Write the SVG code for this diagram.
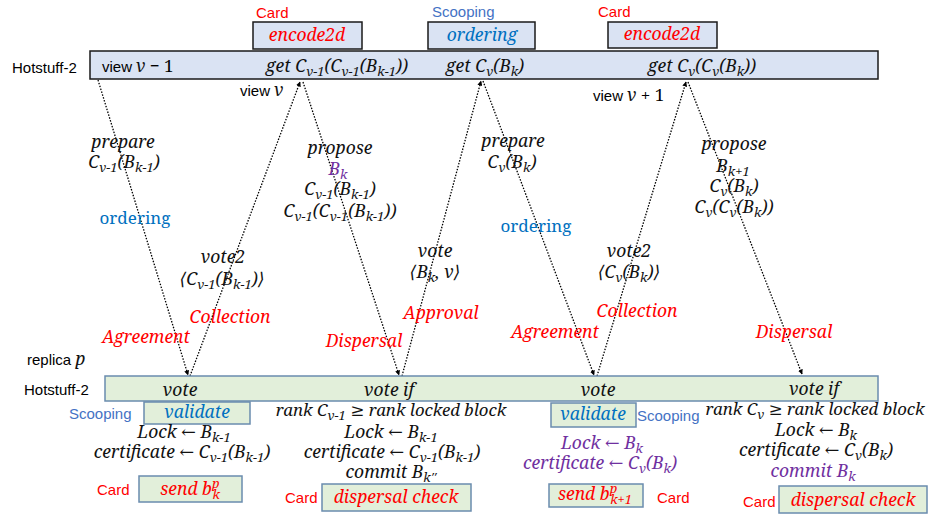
<svg xmlns="http://www.w3.org/2000/svg" width="928" height="517" viewBox="0 0 928 517">
<defs>
<marker id="ah" viewBox="0 0 10 10" refX="9" refY="5" markerWidth="5" markerHeight="5" orient="auto" markerUnits="userSpaceOnUse">
<path d="M0,0 L10,5 L0,10 z" fill="#000"/>
</marker>
<style>
.sans{font-family:"Liberation Sans",Arial,sans-serif;font-size:15px;fill:#000}
.m{font-family:"Noto Serif","DejaVu Serif",serif;font-style:italic;font-size:17.5px;fill:#111}
.up{font-family:"Noto Serif","DejaVu Serif",serif;font-style:normal;font-size:17px}
.s{font-size:13px}
.rk{font-size:16.8px}
.red{fill:#ff0000}
.blue{fill:#0070c0}
.sc{fill:#4472c4}
.pur{fill:#7030a0}
.bandT{fill:#dae3f3;stroke:#1a1a1a;stroke-width:1.5}
.bandB{fill:#e2efda;stroke:#6a8cae;stroke-width:1.5}
.conn{fill:none;stroke:#000;stroke-width:1.3;stroke-dasharray:1.5 1.5;marker-end:url(#ah)}
</style>
</defs>
<rect width="928" height="517" fill="#fff"/>

<!-- top band -->
<g id="top-band">
<text class="sans" x="12" y="73">Hotstuff-2</text>
<rect class="bandT" x="90" y="51" width="788" height="28"/>
<text x="102" y="72"><tspan class="sans">view</tspan><tspan class="m" dx="4">v</tspan><tspan class="up"> − 1</tspan></text>
<text class="m" x="337" y="72" text-anchor="middle">get C<tspan class="s" dy="4">v−1</tspan><tspan dy="-4">(C</tspan><tspan class="s" dy="4">v−1</tspan><tspan dy="-4">(B</tspan><tspan class="s" dy="4">k−1</tspan><tspan dy="-4">))</tspan></text>
<text class="m" x="485" y="72" text-anchor="middle">get C<tspan class="s" dy="4">v</tspan><tspan dy="-4">(B</tspan><tspan class="s" dy="4">k</tspan><tspan dy="-4">)</tspan></text>
<text class="m" x="702" y="72" text-anchor="middle">get C<tspan class="s" dy="4">v</tspan><tspan dy="-4">(C</tspan><tspan class="s" dy="4">v</tspan><tspan dy="-4">(B</tspan><tspan class="s" dy="4">k</tspan><tspan dy="-4">))</tspan></text>
</g>

<g id="encode2d-1">
<text class="sans red" x="256" y="18">Card</text>
<rect class="bandT" x="253" y="22" width="109" height="27"/>
<text class="m red" x="307" y="41" text-anchor="middle">encode2d</text>
</g>
<g id="ordering-top">
<text class="sans sc" x="432" y="17">Scooping</text>
<rect class="bandT" x="428" y="22" width="107" height="27"/>
<text class="m blue" x="482" y="41" text-anchor="middle">ordering</text>
</g>
<g id="encode2d-2">
<text class="sans red" x="598" y="17">Card</text>
<rect class="bandT" x="608" y="22" width="109" height="26"/>
<text class="m red" x="662" y="40" text-anchor="middle">encode2d</text>
</g>

<g id="view-labels">
<text x="240" y="96"><tspan class="sans">view</tspan><tspan class="m" dx="4">v</tspan></text>
<text x="593" y="101"><tspan class="sans">view</tspan><tspan class="m" dx="4">v</tspan><tspan class="up"> + 1</tspan></text>
</g>

<!-- connectors -->
<g id="connectors">
<line class="conn" x1="98" y1="80" x2="188" y2="375"/>
<line class="conn" x1="190" y1="376" x2="300" y2="82"/>
<line class="conn" x1="303" y1="82" x2="399" y2="375"/>
<line class="conn" x1="402" y1="376" x2="481" y2="81"/>
<line class="conn" x1="483" y1="81" x2="594" y2="375"/>
<line class="conn" x1="597" y1="376" x2="686" y2="82"/>
<line class="conn" x1="688" y1="82" x2="802" y2="374"/>
</g>

<!-- message labels -->
<g id="msg-prepare-1">
<text class="m" x="123" y="148" text-anchor="middle">prepare</text>
<text class="m" x="124" y="168" text-anchor="middle">C<tspan class="s" dy="4">v−1</tspan><tspan dy="-4">(B</tspan><tspan class="s" dy="4">k−1</tspan><tspan dy="-4">)</tspan></text>
<text class="up blue" x="135" y="224" text-anchor="middle">ordering</text>
<text class="m red" x="146" y="343" text-anchor="middle">Agreement</text>
</g>
<g id="msg-vote2-1">
<text class="m" x="223" y="263" text-anchor="middle">vote2</text>
<text class="m" x="222" y="285" text-anchor="middle">⟨C<tspan class="s" dy="4">v−1</tspan><tspan dy="-4">(B</tspan><tspan class="s" dy="4">k−1</tspan><tspan dy="-4">)⟩</tspan></text>
<text class="m red" x="230" y="323" text-anchor="middle">Collection</text>
</g>
<g id="msg-propose-1">
<text class="m" x="340" y="154" text-anchor="middle">propose</text>
<text class="m pur" x="338" y="175" text-anchor="middle">B<tspan class="s" dy="4">k</tspan></text>
<text class="m" x="340" y="195" text-anchor="middle">C<tspan class="s" dy="4">v−1</tspan><tspan dy="-4">(B</tspan><tspan class="s" dy="4">k−1</tspan><tspan dy="-4">)</tspan></text>
<text class="m" x="340" y="217" text-anchor="middle">C<tspan class="s" dy="4">v−1</tspan><tspan dy="-4">(C</tspan><tspan class="s" dy="4">v−1</tspan><tspan dy="-4">(B</tspan><tspan class="s" dy="4">k−1</tspan><tspan dy="-4">))</tspan></text>
<text class="m red" x="364" y="347" text-anchor="middle">Dispersal</text>
</g>
<g id="msg-vote-1">
<text class="m" x="435" y="257" text-anchor="middle">vote</text>
<text class="m" x="435" y="278" text-anchor="middle">⟨B<tspan class="s" dy="4">k</tspan><tspan dy="-4">, v⟩</tspan></text>
<text class="m red" x="441" y="319" text-anchor="middle">Approval</text>
</g>
<g id="msg-prepare-2">
<text class="m" x="513" y="147" text-anchor="middle">prepare</text>
<text class="m" x="512" y="168" text-anchor="middle">C<tspan class="s" dy="4">v</tspan><tspan dy="-4">(B</tspan><tspan class="s" dy="4">k</tspan><tspan dy="-4">)</tspan></text>
<text class="up blue" x="536" y="232" text-anchor="middle">ordering</text>
<text class="m red" x="555" y="338" text-anchor="middle">Agreement</text>
</g>
<g id="msg-vote2-2">
<text class="m" x="629" y="257" text-anchor="middle">vote2</text>
<text class="m" x="629" y="278" text-anchor="middle">⟨C<tspan class="s" dy="4">v</tspan><tspan dy="-4">(B</tspan><tspan class="s" dy="4">k</tspan><tspan dy="-4">)⟩</tspan></text>
<text class="m red" x="637" y="317" text-anchor="middle">Collection</text>
</g>
<g id="msg-propose-2">
<text class="m" x="734" y="150" text-anchor="middle">propose</text>
<text class="m" x="733" y="172" text-anchor="middle">B<tspan class="s" dy="4">k+1</tspan></text>
<text class="m" x="734" y="192" text-anchor="middle">C<tspan class="s" dy="4">v</tspan><tspan dy="-4">(B</tspan><tspan class="s" dy="4">k</tspan><tspan dy="-4">)</tspan></text>
<text class="m" x="734" y="213" text-anchor="middle">C<tspan class="s" dy="4">v</tspan><tspan dy="-4">(C</tspan><tspan class="s" dy="4">v</tspan><tspan dy="-4">(B</tspan><tspan class="s" dy="4">k</tspan><tspan dy="-4">))</tspan></text>
<text class="m red" x="794" y="338" text-anchor="middle">Dispersal</text>
</g>

<!-- bottom band -->
<g id="bottom-band">
<text x="27" y="365"><tspan class="sans">replica</tspan><tspan class="m" dx="4">p</tspan></text>
<text class="sans" x="24" y="395">Hotstuff-2</text>
<rect class="bandB" x="105" y="376" width="773" height="25"/>
<text class="m" x="180" y="396" text-anchor="middle">vote</text>
<text class="m" x="389" y="396" text-anchor="middle">vote if</text>
<text class="m" x="598" y="396" text-anchor="middle">vote</text>
<text class="m" x="814" y="395" text-anchor="middle">vote if</text>
</g>

<g id="validate-1">
<text class="sans sc" x="69" y="419">Scooping</text>
<rect class="bandB" x="144" y="402" width="106" height="22"/>
<text class="m blue" x="197" y="418" text-anchor="middle">validate</text>
</g>
<g id="vote-1-actions">
<text class="m" x="184" y="438" text-anchor="middle">Lock ← B<tspan class="s" dy="4">k−1</tspan></text>
<text class="m" x="182" y="458" text-anchor="middle">certificate ← C<tspan class="s" dy="4">v−1</tspan><tspan dy="-4">(B</tspan><tspan class="s" dy="4">k−1</tspan><tspan dy="-4">)</tspan></text>
</g>
<g id="send-1">
<text class="sans red" x="97" y="495">Card</text>
<rect class="bandB" x="139" y="476" width="103" height="26"/>
<text class="m red" x="190" y="495" text-anchor="middle">send b<tspan class="s" dy="-7">p</tspan><tspan class="s" dx="-7" dy="11">k</tspan></text>
</g>
<g id="voteif-1-actions">
<text class="m rk" x="391" y="416" text-anchor="middle">rank C<tspan class="s" dy="4">v−1</tspan><tspan dy="-4"> ≥ rank locked block</tspan></text>
<text class="m" x="391" y="438" text-anchor="middle">Lock ← B<tspan class="s" dy="4">k−1</tspan></text>
<text class="m" x="392" y="458" text-anchor="middle">certificate ← C<tspan class="s" dy="4">v−1</tspan><tspan dy="-4">(B</tspan><tspan class="s" dy="4">k−1</tspan><tspan dy="-4">)</tspan></text>
<text class="m" x="391" y="478" text-anchor="middle">commit B<tspan class="s" dy="4">k′′</tspan></text>
</g>
<g id="dispersal-1">
<text class="sans red" x="285" y="503">Card</text>
<rect class="bandB" x="322" y="484" width="149" height="27"/>
<text class="m red" x="396" y="503" text-anchor="middle">dispersal check</text>
</g>

<g id="validate-2">
<rect class="bandB" x="551" y="403" width="85" height="24"/>
<text class="m blue" x="593" y="420" text-anchor="middle">validate</text>
<text class="sans sc" x="637" y="421">Scooping</text>
</g>
<g id="vote-2-actions">
<text class="m pur" x="602" y="449" text-anchor="middle">Lock ← B<tspan class="s" dy="4">k</tspan></text>
<text class="m pur" x="600" y="469" text-anchor="middle">certificate ← C<tspan class="s" dy="4">v</tspan><tspan dy="-4">(B</tspan><tspan class="s" dy="4">k</tspan><tspan dy="-4">)</tspan></text>
</g>
<g id="send-2">
<rect class="bandB" x="549" y="484" width="94" height="23"/>
<text class="m red" x="595" y="500" text-anchor="middle">send b<tspan class="s" dy="-7">p</tspan><tspan class="s" dx="-7" dy="11">k+1</tspan></text>
<text class="sans red" x="657" y="503">Card</text>
</g>
<g id="voteif-2-actions">
<text class="m rk" x="815" y="415" text-anchor="middle">rank C<tspan class="s" dy="4">v</tspan><tspan dy="-4"> ≥ rank locked block</tspan></text>
<text class="m" x="816" y="436" text-anchor="middle">Lock ← B<tspan class="s" dy="4">k</tspan></text>
<text class="m" x="816" y="456" text-anchor="middle">certificate ← C<tspan class="s" dy="4">v</tspan><tspan dy="-4">(B</tspan><tspan class="s" dy="4">k</tspan><tspan dy="-4">)</tspan></text>
<text class="m pur" x="813" y="477" text-anchor="middle">commit B<tspan class="s" dy="4">k</tspan></text>
</g>
<g id="dispersal-2">
<text class="sans red" x="743" y="507">Card</text>
<rect class="bandB" x="779" y="486" width="148" height="27"/>
<text class="m red" x="853" y="506" text-anchor="middle">dispersal check</text>
</g>
</svg>
